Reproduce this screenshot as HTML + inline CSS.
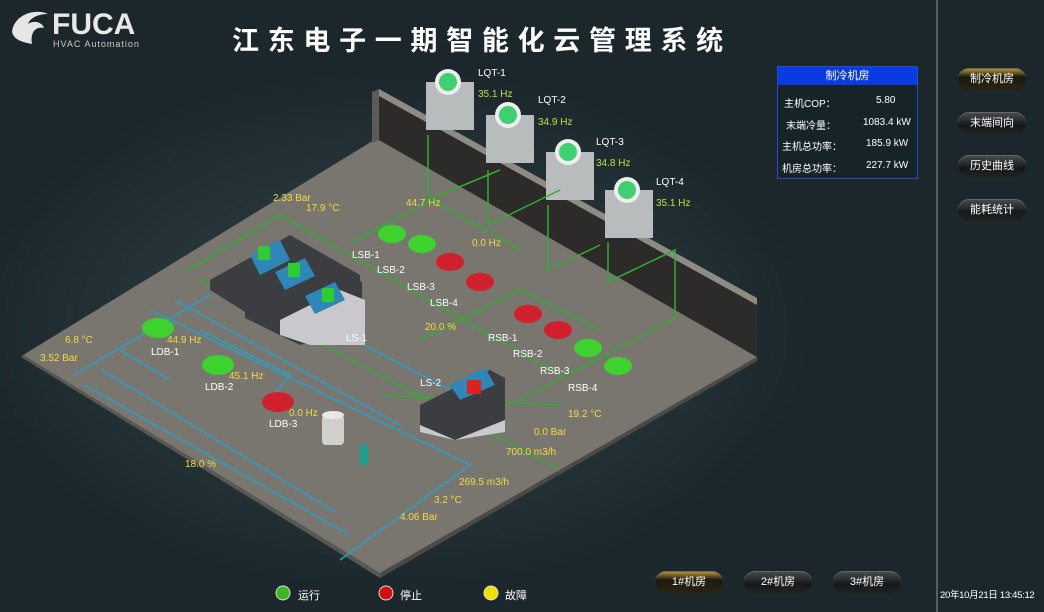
<!DOCTYPE html>
<html><head><meta charset="utf-8"><style>
body{margin:0;width:1044px;height:612px;background:#1b272b;overflow:hidden;position:relative;font-family:"Liberation Sans","Noto Sans CJK SC",sans-serif;}
.t{position:absolute;font-size:10px;white-space:nowrap}
.y{color:#f2dc3c}.w{color:#fff}.g{color:#b8e040}
.btn{position:absolute;width:68px;height:22px;border-radius:11px;background:linear-gradient(#4a4f52,#151819 60%,#222);color:#fff;font-size:11px;text-align:center;line-height:22px;box-shadow:0 1px 0 #666 inset}
.btn.on{background:linear-gradient(#c9a030,#1a1a14 40%,#2a2410);}
</style></head><body>
<svg width="1044" height="612" style="position:absolute;left:0;top:0">
<defs><radialGradient id="glow" cx="0.5" cy="0.5" r="0.5"><stop offset="0" stop-color="#34454a"/><stop offset="1" stop-color="#1b272b"/></radialGradient></defs>
<ellipse cx="390" cy="330" rx="420" ry="260" fill="url(#glow)"/>
<polygon points="23,355 379,137 757,357 380,573" fill="#78766f"/>
<polygon points="23,355 380,573 380,578 21,357" fill="#5a5852"/>
<polygon points="380,573 757,357 757,361 380,578" fill="#4c4a45"/>
<polygon points="379,96 757,305 757,357 379,140" fill="#2c2b29"/>
<polygon points="379,89 757,298 757,305 379,96" fill="#8d8b84"/>
<polygon points="372,92 379,89 379,140 372,143" fill="#5d5b55"/>
<g>
<rect x="426" y="82" width="48" height="48" fill="#b9bcbd"/><circle cx="448" cy="82" r="13" fill="#eee"/><circle cx="448" cy="82" r="9" fill="#3cd070"/>
<rect x="486" y="115" width="48" height="48" fill="#b9bcbd"/><circle cx="508" cy="115" r="13" fill="#eee"/><circle cx="508" cy="115" r="9" fill="#3cd070"/>
<rect x="546" y="152" width="48" height="48" fill="#b9bcbd"/><circle cx="568" cy="152" r="13" fill="#eee"/><circle cx="568" cy="152" r="9" fill="#3cd070"/>
<rect x="605" y="190" width="48" height="48" fill="#b9bcbd"/><circle cx="627" cy="190" r="13" fill="#eee"/><circle cx="627" cy="190" r="9" fill="#3cd070"/>
</g>
<g stroke="#2fae2f" stroke-width="1.5" fill="none">
<polyline points="428,135 428,200 500,170"/><polyline points="488,170 488,225 560,190"/><polyline points="548,205 548,270 600,245"/><polyline points="608,242 608,282 675,250 675,318 520,400"/>
<polyline points="185,272 280,215 560,375"/><polyline points="200,280 560,470"/>
<polyline points="352,242 432,200 520,250"/><polyline points="420,340 520,290 600,330"/>
<polyline points="380,395 560,405"/>
</g>
<g stroke="#2aa0c8" stroke-width="1.5" fill="none">
<polyline points="74,375 210,295"/><polyline points="84,385 350,535"/><polyline points="102,370 335,512"/><polyline points="120,350 170,380"/>
<polyline points="150,310 470,465 340,560"/><polyline points="200,330 290,375 265,405"/><polyline points="175,300 400,425"/><polyline points="240,280 460,395"/>
</g>
<g>
<polygon points="210,280 290,235 360,275 360,300 290,340 210,290" fill="#3b3d40"/><polygon points="250,255 280,240 290,260 260,275" fill="#2f86b8"/><rect x="258" y="246" width="12" height="14" fill="#2ecc2e"/>
<polygon points="245,300 320,258 362,282 362,330 300,345 245,318" fill="#3b3d40"/><polygon points="275,272 305,258 315,276 285,290" fill="#2f86b8"/><rect x="288" y="263" width="12" height="14" fill="#2ecc2e"/>
<polygon points="280,320 340,290 365,300 365,345 310,345 280,335" fill="#c9c9cd"/><polygon points="305,296 335,282 345,300 315,314" fill="#2f86b8"/><rect x="322" y="288" width="12" height="14" fill="#2ecc2e"/>
<polygon points="420,405 490,370 505,378 505,420 455,440 420,425" fill="#3b3d40"/><polygon points="450,385 485,368 495,385 460,400" fill="#2f86b8"/><rect x="467" y="380" width="14" height="14" fill="#e02020"/>
<polygon points="420,425 455,440 505,420 505,432 455,440 420,432" fill="#c9c9cd"/>
</g>
<g>
<ellipse cx="158" cy="328" rx="16" ry="10" fill="#3ed22e"/><ellipse cx="218" cy="365" rx="16" ry="10" fill="#3ed22e"/><ellipse cx="278" cy="402" rx="16" ry="10" fill="#d0202c"/>
<ellipse cx="392" cy="234" rx="14" ry="9" fill="#3ed22e"/><ellipse cx="422" cy="244" rx="14" ry="9" fill="#3ed22e"/><ellipse cx="450" cy="262" rx="14" ry="9" fill="#d0202c"/><ellipse cx="480" cy="282" rx="14" ry="9" fill="#d0202c"/>
<ellipse cx="528" cy="314" rx="14" ry="9" fill="#d0202c"/><ellipse cx="558" cy="330" rx="14" ry="9" fill="#d0202c"/><ellipse cx="588" cy="348" rx="14" ry="9" fill="#3ed22e"/><ellipse cx="618" cy="366" rx="14" ry="9" fill="#3ed22e"/>
</g>
<rect x="322" y="415" width="22" height="30" rx="4" fill="#d0d0cc"/><ellipse cx="333" cy="415" rx="11" ry="4" fill="#e8e8e6"/>
<rect x="360" y="445" width="8" height="20" fill="#1aa090"/>
<line x1="937" y1="0" x2="937" y2="612" stroke="#8a9498" stroke-width="1"/>
<circle cx="283" cy="593" r="7" fill="#3ab820" stroke="#ddd"/><circle cx="386" cy="593" r="7" fill="#d01010" stroke="#ddd"/><circle cx="491" cy="593" r="7" fill="#f0e000" stroke="#ddd"/>
<path d="M12,32 C14,14 36,8 48,14 C38,14 30,18 28,24 C34,20 42,22 44,28 C36,26 30,32 32,44 C22,42 14,40 12,32Z" fill="#e6e6e6"/>
</svg>
<div class="t" style="left:52px;top:8px;font-size:30px;font-weight:bold;color:#e8e8e8">FUCA</div>
<div class="t" style="left:53px;top:39px;font-size:9px;color:#ccc;letter-spacing:1px">HVAC Automation</div>
<div class="t w" style="left:232px;top:19px;font-size:27px;font-weight:bold;letter-spacing:8.7px">江东电子一期智能化云管理系统</div>
<div style="position:absolute;left:777px;top:66px;width:139px;height:111px;border:1px solid #2050d0;background:#16242a"></div>
<div class="t w" style="left:778px;top:67px;width:139px;height:18px;background:#0a3be0;text-align:center;line-height:18px;font-size:11px">制冷机房</div>
<div class="t w" style="left:784px;top:95px">主机COP：</div><div class="t w" style="left:876px;top:95px">5.80</div>
<div class="t w" style="left:786px;top:117px">末端冷量：</div><div class="t w" style="left:863px;top:117px">1083.4 kW</div>
<div class="t w" style="left:782px;top:138px">主机总功率：</div><div class="t w" style="left:866px;top:138px">185.9 kW</div>
<div class="t w" style="left:782px;top:160px">机房总功率：</div><div class="t w" style="left:866px;top:160px">227.7 kW</div>
<div class="btn on" style="left:958px;top:68px">制冷机房</div>
<div class="btn" style="left:958px;top:112px">末端间向</div>
<div class="btn" style="left:958px;top:155px">历史曲线</div>
<div class="btn" style="left:958px;top:199px">能耗统计</div>
<div class="btn on" style="left:655px;top:571px">1#机房</div>
<div class="btn" style="left:744px;top:571px">2#机房</div>
<div class="btn" style="left:833px;top:571px">3#机房</div>
<div class="t w" style="left:940px;top:587px;font-size:9.5px;letter-spacing:-0.3px">20年10月21日 13:45:12</div>
<div class="t w" style="left:298px;top:587px;font-size:11px">运行</div>
<div class="t w" style="left:400px;top:587px;font-size:11px">停止</div>
<div class="t w" style="left:505px;top:587px;font-size:11px">故障</div>
<div class="t w" style="left:478px;top:68px">LQT-1</div><div class="t g" style="left:478px;top:89px">35.1 Hz</div>
<div class="t w" style="left:538px;top:95px">LQT-2</div><div class="t g" style="left:538px;top:117px">34.9 Hz</div>
<div class="t w" style="left:596px;top:137px">LQT-3</div><div class="t g" style="left:596px;top:158px">34.8 Hz</div>
<div class="t w" style="left:656px;top:177px">LQT-4</div><div class="t g" style="left:656px;top:198px">35.1 Hz</div>
<div class="t y" style="left:273px;top:193px">2.33 Bar</div><div class="t y" style="left:306px;top:203px">17.9 °C</div>
<div class="t y" style="left:406px;top:198px">44.7 Hz</div><div class="t y" style="left:472px;top:238px">0.0 Hz</div>
<div class="t w" style="left:352px;top:250px">LSB-1</div><div class="t w" style="left:377px;top:265px">LSB-2</div><div class="t w" style="left:407px;top:282px">LSB-3</div><div class="t w" style="left:430px;top:298px">LSB-4</div>
<div class="t y" style="left:425px;top:322px">20.0 %</div>
<div class="t w" style="left:346px;top:333px">LS-1</div>
<div class="t w" style="left:488px;top:333px">RSB-1</div><div class="t w" style="left:513px;top:349px">RSB-2</div><div class="t w" style="left:540px;top:366px">RSB-3</div><div class="t w" style="left:568px;top:383px">RSB-4</div>
<div class="t y" style="left:65px;top:335px">6.8 °C</div><div class="t y" style="left:40px;top:353px">3.52 Bar</div>
<div class="t y" style="left:167px;top:335px">44.9 Hz</div><div class="t w" style="left:151px;top:347px">LDB-1</div>
<div class="t y" style="left:229px;top:371px">45.1 Hz</div><div class="t w" style="left:205px;top:382px">LDB-2</div>
<div class="t y" style="left:289px;top:408px">0.0 Hz</div><div class="t w" style="left:269px;top:419px">LDB-3</div>
<div class="t w" style="left:420px;top:378px">LS-2</div>
<div class="t y" style="left:568px;top:409px">19.2 °C</div><div class="t y" style="left:534px;top:427px">0.0 Bar</div>
<div class="t y" style="left:506px;top:447px">700.0 m3/h</div>
<div class="t y" style="left:185px;top:459px">18.0 %</div>
<div class="t y" style="left:459px;top:477px">269.5 m3/h</div><div class="t y" style="left:434px;top:495px">3.2 °C</div><div class="t y" style="left:400px;top:512px">4.06 Bar</div>
</body></html>
